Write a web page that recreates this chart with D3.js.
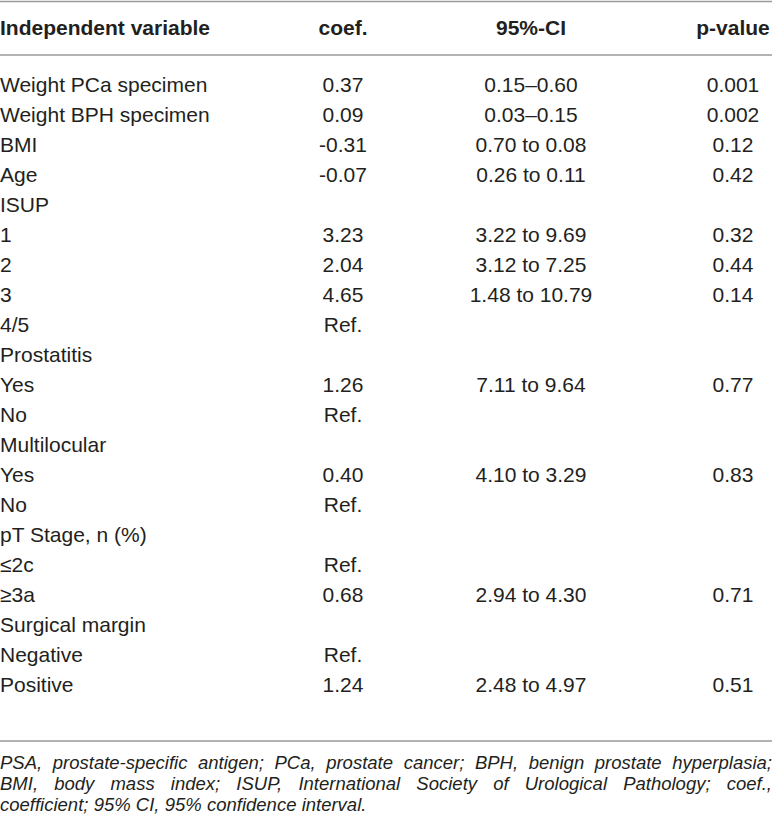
<!DOCTYPE html>
<html>
<head>
<meta charset="utf-8">
<script src="https://cdn.jsdelivr.net/npm/d3@7.9.0/dist/d3.min.js"></script>
<style>
  html, body { margin: 0; padding: 0; background: #fff; }
  svg { display: block; }
  text { font-family: "Liberation Sans", Arial, Helvetica, sans-serif; fill: #231f20; }
</style>
</head>
<body>
<svg id="table" width="772" height="830"></svg>
<script>
// table content
const headers = ['Independent variable', 'coef.', '95%-CI', 'p-value'];

const variables = [
  'Weight PCa specimen', 'Weight BPH specimen', 'BMI', 'Age', 'ISUP',
  '1', '2', '3', '4/5', 'Prostatitis', 'Yes', 'No', 'Multilocular', 'Yes', 'No',
  'pT Stage, n (%)', '≤2c', '≥3a', 'Surgical margin', 'Negative', 'Positive'
];
const coefs = [
  '0.37', '0.09', '-0.31', '-0.07', '',
  '3.23', '2.04', '4.65', 'Ref.', '', '1.26', 'Ref.', '', '0.40', 'Ref.',
  '', 'Ref.', '0.68', '', 'Ref.', '1.24'
];
const cis = [
  '0.15–0.60', '0.03–0.15', '0.70 to 0.08', '0.26 to 0.11', '',
  '3.22 to 9.69', '3.12 to 7.25', '1.48 to 10.79', '', '', '7.11 to 9.64', '', '', '4.10 to 3.29', '',
  '', '', '2.94 to 4.30', '', '', '2.48 to 4.97'
];
const pValues = [
  '0.001', '0.002', '0.12', '0.42', '',
  '0.32', '0.44', '0.14', '', '', '0.77', '', '', '0.83', '',
  '', '', '0.71', '', '', '0.51'
];
const footnotes = [
  'PSA, prostate-specific antigen; PCa, prostate cancer; BPH, benign prostate hyperplasia;',
  'BMI, body mass index; ISUP, International Society of Urological Pathology; coef.,',
  'coefficient; 95% CI, 95% confidence interval.'
];

const W = 772;
const svg = d3.select('#table');

//row baselines and column centres
const y = d3.scaleLinear().domain([0, variables.length - 1]).range([92, 692]);
const colX = d3.scaleOrdinal().domain(['coef', 'ci', 'p']).range([343, 531, 733]);
const noteY = d3.scaleLinear().domain([0, footnotes.length - 1]).range([769, 811]);

//rules
[1.5, 55, 741].forEach(ry => {
  svg.append('line')
    .attr('x1', 0).attr('x2', W)
    .attr('y1', ry).attr('y2', ry)
    .attr('stroke', '#9a9a9a')
    .attr('stroke-width', 1.6);
});

//header
const head = svg.append('g')
  .attr('font-weight', 'bold')
  .attr('font-size', 21);
head.append('text').attr('x', 0).attr('y', 35).text(headers[0]);
['coef', 'ci', 'p'].forEach((c, i) => {
  head.append('text')
    .attr('x', colX(c)).attr('y', 35)
    .attr('text-anchor', 'middle')
    .text(headers[i + 1]);
});

//body rows
const body = svg.append('g')
  .attr('font-size', 21);

body.selectAll('text.var')
  .data(variables)
  .join('text')
  .attr('class', 'var')
  .attr('x', 0)
  .attr('y', (d, i) => y(i))
  .text(d => d);

[['coef', coefs], ['ci', cis], ['p', pValues]].forEach(([c, vals]) => {
  body.selectAll('text.' + c)
    .data(vals)
    .join('text')
    .attr('class', c)
    .attr('x', colX(c))
    .attr('y', (d, i) => y(i))
    .attr('text-anchor', 'middle')
    .text(d => d);
});

//footnote, justified except the last line
const notes = svg.append('g')
  .attr('font-size', 18.5)
  .attr('font-style', 'italic');

footnotes.forEach((line, li) => {
  const words = line.split(' ');
  const texts = words.map(w => notes.append('text').attr('y', noteY(li)).text(w));
  const widths = texts.map(t => t.node().getComputedTextLength());
  let gap = 5.2;
  if (li < footnotes.length - 1) {
    gap = (W - d3.sum(widths)) / (words.length - 1);
  }
  let x = 0;
  texts.forEach((t, i) => {
    t.attr('x', x);
    x += widths[i] + gap;
  });
});
</script>
</body>
</html>
